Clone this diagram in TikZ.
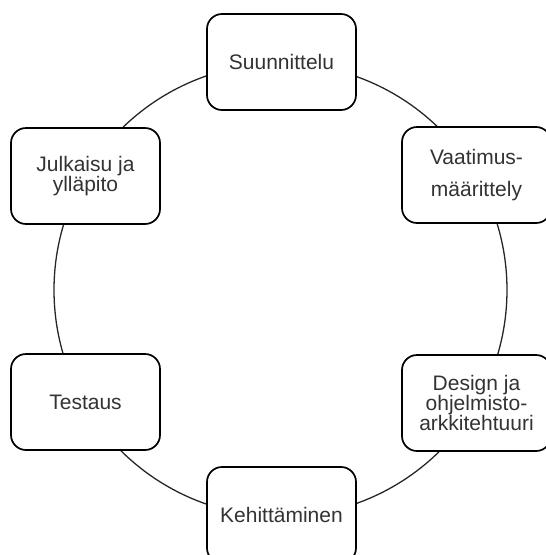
\documentclass[tikz,border=0pt]{standalone}
\usepackage{fontspec}
\setmainfont{Liberation Sans}
\definecolor{textgray}{HTML}{333333}
\begin{document}
\begin{tikzpicture}[x=1pt,y=-1pt,
  phase/.style={draw=black, line width=1.7pt, rounded corners=15pt, fill=white,
    minimum width=149pt, minimum height=96pt, align=center, text=textgray,
    font=\fontsize{21}{20}\selectfont, inner sep=0pt},
  widelines/.style={font=\fontsize{21}{32}\selectfont},
  ring/.style={draw=black!85, line width=1.3pt}]
\useasboundingbox (0,0) rectangle (546,555);
\coordinate (c) at (280.5,290);
\draw[ring] (c) circle (226.5pt);
\node[phase] (s) at (281.5,62) {Suunnittelu};
\node[phase, widelines] (v) at (476.5,175) {Vaatimus-\\määrittely};
\node[phase] (d) at (476.5,403) {Design ja\\ohjelmisto-\\arkkitehtuuri};
\node[phase] (k) at (281.5,515) {Kehittäminen};
\node[phase] (t) at (85.5,402) {Testaus};
\node[phase] (j) at (85.5,176) {Julkaisu ja\\ylläpito};
\end{tikzpicture}
\end{document}
